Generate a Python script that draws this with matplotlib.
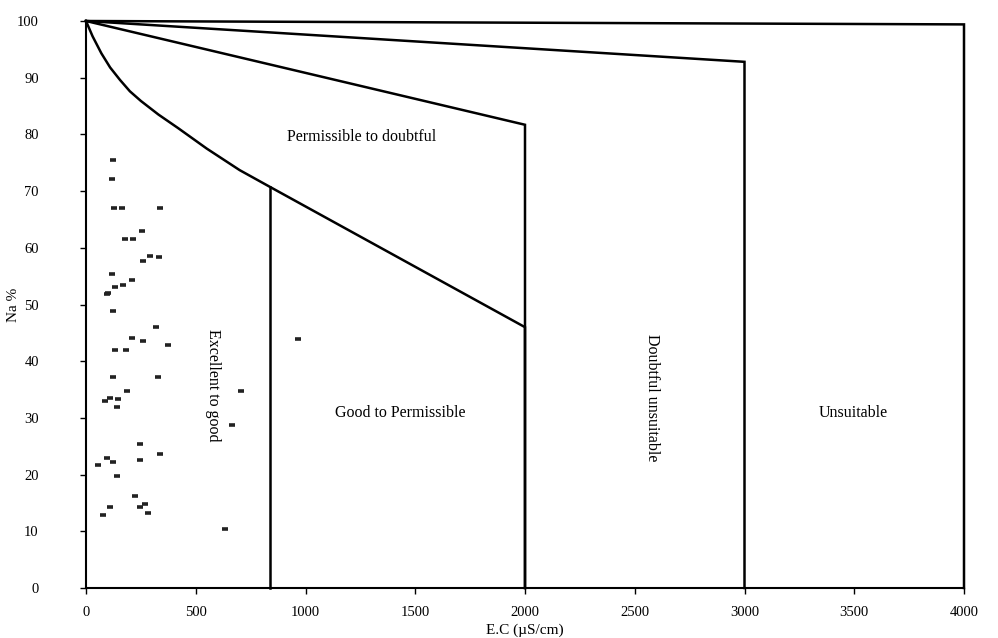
import matplotlib
matplotlib.use("Agg")
import matplotlib.pyplot as plt

plt.rcParams['font.family'] = ['Liberation Serif', 'DejaVu Serif']

# Sample data (EC in uS/cm, Na %)
ec = [124, 120, 129, 163, 337, 255, 178, 215, 292, 258, 334, 118, 211, 170, 132,
      102, 94, 124, 319, 208, 258, 375, 132, 181, 124, 327, 185, 705, 147, 109,
      87, 140, 664, 246, 337, 94, 124, 56, 246, 140, 223, 269, 246, 284, 109,
      79, 633, 965]
na = [75.5, 72.1, 67.1, 67.1, 67.1, 62.9, 61.6, 61.6, 58.5, 57.7, 58.3, 55.4, 54.3,
      53.4, 53.0, 52.0, 51.8, 48.8, 46.1, 44.1, 43.6, 42.9, 41.9, 42.0, 37.3, 37.3,
      34.7, 34.7, 33.3, 33.5, 33.0, 31.9, 28.7, 25.4, 23.6, 22.9, 22.2, 21.7, 22.5,
      19.8, 16.3, 14.8, 14.3, 13.3, 14.3, 12.8, 10.4, 43.9]

# Boundary lines of the Wilcox diagram
unsuit_x = [0, 4000, 4000]
unsuit_y = [100, 99.4, 0]
doubt_x = [0, 3000, 3000]
doubt_y = [100, 92.8, 0]
perm_x = [0, 2000, 2000]
perm_y = [100, 81.7, 0]
good_x = [0, 30, 70, 110, 155, 200, 250, 330, 420, 550, 700, 840, 2000, 2000]
good_y = [100, 97.3, 94.3, 91.8, 89.6, 87.6, 85.9, 83.5, 81.1, 77.5, 73.7, 70.7, 46.0, 0]
exc_x = [840, 840]
exc_y = [70.7, 0]

x_ticks = [0, 500, 1000, 1500, 2000, 2500, 3000, 3500, 4000]
y_ticks = [0, 10, 20, 30, 40, 50, 60, 70, 80, 90, 100]

fig = plt.figure(figsize=(9.98, 6.38), dpi=100)
ax = fig.add_axes([86/998, 1-588/638, (964-86)/998, (588-21)/638])

lw = 1.8
for xs, ys in [(unsuit_x, unsuit_y), (doubt_x, doubt_y), (perm_x, perm_y),
               (good_x, good_y), (exc_x, exc_y)]:
    ax.plot(xs, ys, color='black', lw=lw, clip_on=False, solid_joinstyle='miter')

ax.plot(ec, na, linestyle='none', marker='_', markersize=5, mew=2.6, color='#222222')

ax.set_xlim(0, 4000)
ax.set_ylim(0, 100)
ax.set_xticks(x_ticks)
ax.set_yticks(y_ticks)
ax.tick_params(labelsize=10.5, direction='out', length=4, width=1)
ax.tick_params(axis='y', pad=30)
ax.tick_params(axis='x', pad=9)
ax.spines['top'].set_visible(False)
ax.spines['right'].set_visible(False)
ax.spines['left'].set_linewidth(1.5)
ax.spines['bottom'].set_linewidth(1.5)

ax.set_xlabel('E.C (µS/cm)', fontsize=11, labelpad=3)
ax.set_ylabel('Na %', fontsize=11)
ax.yaxis.set_label_coords(-0.075, 0.5)

ax.text(1257, 79.5, 'Permissible to doubtful', ha='center', va='center', fontsize=11.5)
ax.text(579, 35.8, 'Excellent to good', ha='center', va='center', fontsize=11.5, rotation=270)
ax.text(1430, 30.9, 'Good to Permissible', ha='center', va='center', fontsize=11.5)
ax.text(2579, 33.5, 'Doubtful unsuitable', ha='center', va='center', fontsize=11.5, rotation=270)
ax.text(3494, 30.9, 'Unsuitable', ha='center', va='center', fontsize=11.5)

fig.savefig('out.png', dpi=100)
